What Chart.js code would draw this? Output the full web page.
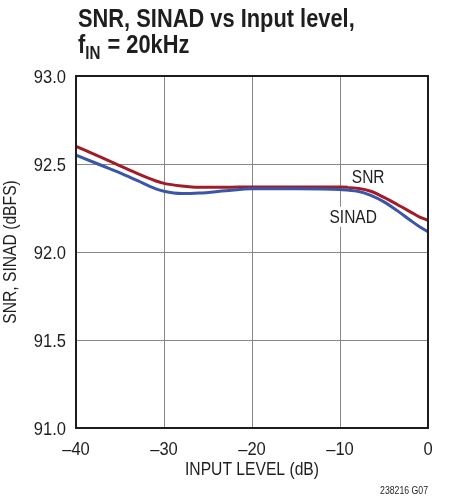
<!DOCTYPE html>
<html>
<head>
<meta charset="utf-8">
<script src="https://cdn.jsdelivr.net/npm/chart.js@4"></script>
<style>
  html, body { margin: 0; padding: 0; background: #fff; }
  #wrap { width: 458px; height: 501px; position: relative; }
</style>
</head>
<body>
<div id="wrap"><canvas id="chart"></canvas></div>
<script>
// === Data ===
const inputLevel = [-40, -37, -35, -33, -31, -30, -28, -26, -23, -20, -15, -10, -8, -6.5, -5, -3.5, -2, -1, 0];
const snr   = [92.60, 92.535, 92.49, 92.445, 92.405, 92.39, 92.375, 92.368, 92.368, 92.37, 92.37, 92.37, 92.362, 92.345, 92.31, 92.27, 92.228, 92.20, 92.18];
const sinad = [92.55, 92.49, 92.45, 92.405, 92.36, 92.345, 92.332, 92.335, 92.348, 92.36, 92.36, 92.355, 92.345, 92.322, 92.285, 92.235, 92.18, 92.145, 92.115];
const xTicks = [-40, -30, -20, -10, 0];
const yTicks = [91.0, 91.5, 92.0, 92.5, 93.0];

const FONT = '"Liberation Sans", Arial, Helvetica, sans-serif';
const RED = "#a01c26";
const BLUE = "#3a56a8";
const INK = "#1e1e1e";

const points = ys => inputLevel.map((x, i) => ({ x, y: ys[i] }));

// text squeezed horizontally, to look like the condensed face of the original
function narrow(ctx, text, x, y, font, align, sx) {
    ctx.save();
    ctx.font = font;
    ctx.textAlign = align;
    ctx.translate(x, y);
    ctx.scale(sx, 1);
    ctx.fillText(text, 0, 0);
    ctx.restore();
}

// === Text overlay: ticks, title, axis titles, curve labels ===
const overlay = {
    id: "overlay",
    afterDatasetsDraw(chart) {
        const { ctx, chartArea: a, scales } = chart;
        const xs = scales.x, ys = scales.y;

        ctx.save();
        // frame top/right
        ctx.strokeStyle = INK;
        ctx.lineWidth = 2;
        ctx.strokeRect(a.left, a.top, a.right - a.left, a.bottom - a.top);

        ctx.fillStyle = INK;
        ctx.textBaseline = "alphabetic";

        // tick labels
        const tickFont = "18px " + FONT;
        ys.ticks.forEach(t => {
            narrow(ctx, t.value.toFixed(1), a.left - 10, ys.getPixelForValue(t.value) + 6.5, tickFont, "right", 0.92);
        });
        xs.ticks.forEach(t => {
            const lbl = t.value < 0 ? "\u2013" + Math.abs(t.value) : String(t.value);
            narrow(ctx, lbl, xs.getPixelForValue(t.value), a.bottom + 27, tickFont, "center", 0.92);
        });

        // curve labels with white backing
        [["SNR", -6.8, 92.43], ["SINAD", -8.5, 92.2]].forEach(([t, vx, vy]) => {
            const px = xs.getPixelForValue(vx), py = ys.getPixelForValue(vy);
            ctx.font = "18px " + FONT;
            const w = ctx.measureText(t).width * 0.86;
            ctx.fillStyle = "#fff";
            ctx.fillRect(px - w / 2 - 4, py - 10, w + 8, 20);
            ctx.fillStyle = INK;
            narrow(ctx, t, px, py + 6.5, "18px " + FONT, "center", 0.86);
        });

        // title
        const tf = "bold 26px " + FONT;
        narrow(ctx, "SNR, SINAD vs Input level,", 78, 27, tf, "left", 0.84);
        ctx.font = tf;
        narrow(ctx, "f", 78, 53, tf, "left", 0.84);
        let fx = 78 + ctx.measureText("f").width * 0.84;
        ctx.font = "bold 18px " + FONT;
        narrow(ctx, "IN", fx, 59, "bold 18px " + FONT, "left", 0.84);
        fx += ctx.measureText("IN").width * 0.84 + 1;
        ctx.font = tf;
        narrow(ctx, " = 20kHz", fx, 53, tf, "left", 0.84);

        // x axis title
        narrow(ctx, "INPUT LEVEL (dB)", (a.left + a.right) / 2, 475, "18px " + FONT, "center", 0.87);

        // y axis title
        ctx.save();
        ctx.translate(16, (a.top + a.bottom) / 2);
        ctx.rotate(-Math.PI / 2);
        narrow(ctx, "SNR, SINAD (dBFS)", 0, 0, "18px " + FONT, "center", 0.87);
        ctx.restore();

        // footnote
        narrow(ctx, "238216 G07", a.right, 494, "10px " + FONT, "right", 0.87);
        ctx.restore();
    },
};

new Chart(document.getElementById("chart"), {
    type: "line",
    data: {
        datasets: [
            { label: "SINAD", data: points(sinad), borderColor: BLUE, borderWidth: 3, pointRadius: 0, cubicInterpolationMode: "monotone" },
            { label: "SNR", data: points(snr), borderColor: RED, borderWidth: 3, pointRadius: 0, cubicInterpolationMode: "monotone" },
        ],
    },
    options: {
        responsive: true,
        maintainAspectRatio: false,
        animation: false,
        layout: { padding: { top: 76, right: 30, bottom: 0, left: 0 } },
        plugins: { legend: { display: false }, tooltip: { enabled: false } },
        scales: {
            x: {
                type: "linear",
                min: -40, max: 0,
                afterFit: s => { s.height = 73; },
                afterBuildTicks: s => { s.ticks = xTicks.map(v => ({ value: v })); },
                grid: { color: "#888", lineWidth: 1, drawTicks: false },
                border: { display: true, color: INK, width: 2 },
                ticks: { display: false },
            },
            y: {
                min: 91, max: 93,
                afterFit: s => { s.width = 76; },
                afterBuildTicks: s => { s.ticks = yTicks.map(v => ({ value: v })); },
                grid: { color: "#888", lineWidth: 1, drawTicks: false },
                border: { display: true, color: INK, width: 2 },
                ticks: { display: false },
            },
        },
    },
    plugins: [overlay],
});
</script>
</body>
</html>
